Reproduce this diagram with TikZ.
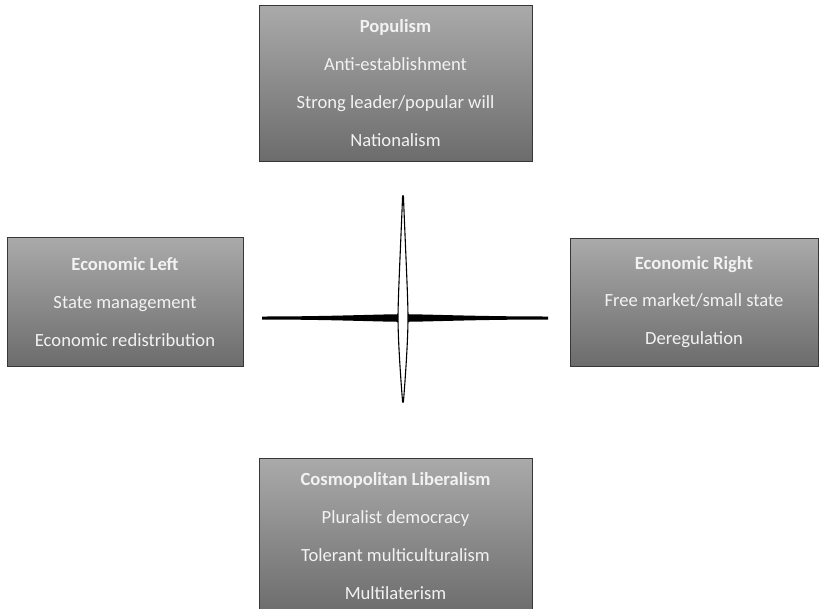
\documentclass[tikz,border=0pt]{standalone}
\usepackage{fontspec}
\setmainfont{Carlito}

\definecolor{boxtop}{RGB}{170,170,170}
\definecolor{boxbot}{RGB}{108,108,108}
\definecolor{boxline}{RGB}{55,55,55}
\definecolor{boxtext}{RGB}{242,242,242}

\begin{document}
\begin{tikzpicture}[x=1pt,y=-1pt,
  pole/.style={draw=boxline,line width=0.9pt,top color=boxtop,bottom color=boxbot,
    text=boxtext,align=center,inner sep=0pt,
    font=\fontsize{18.6}{37.8}\selectfont}]
  \useasboundingbox (0,0) rectangle (819,608);
  % the four poles
  \node[pole,minimum width=273pt,minimum height=156pt] (pop) at (395.5,83)
    {\textbf{Populism}\\Anti-establishment\\Strong leader/popular will\\Nationalism};
  \node[pole,minimum width=236pt,minimum height=129pt] (left) at (125,302)
    {\textbf{Economic Left}\\State management\\Economic redistribution};
  \node[pole,minimum width=248pt,minimum height=128pt] (right) at (694,302)
    {\textbf{Economic Right}\\Free market/small state\\Deregulation};
  \node[pole,minimum width=273pt,minimum height=156pt] (cosmo) at (395.5,536)
    {\textbf{Cosmopolitan Liberalism}\\Pluralist democracy\\Tolerant multiculturalism\\Multilaterism};
  % cross: filled horizontal bar, hollow vertical lens on top
  \fill (262,316.5) -- (262,319.5) .. controls (330,319.5) and (380,321.8) .. (403,321.8)
    .. controls (426,321.8) and (476,319.5) .. (548,319.5) -- (548,316.5)
    .. controls (476,316.5) and (426,314.2) .. (403,314.2)
    .. controls (380,314.2) and (330,316.5) .. (262,316.5) -- cycle;
  \filldraw[fill=white,line width=1.1pt] (402.6,196) -- (403.4,196)
    .. controls (406,260) and (408,300) .. (408,318)
    .. controls (408,336) and (406,370) .. (403.4,402) -- (402.6,402)
    .. controls (400,370) and (398,336) .. (398,318)
    .. controls (398,300) and (400,260) .. (402.6,196) -- cycle;
\end{tikzpicture}
\end{document}
